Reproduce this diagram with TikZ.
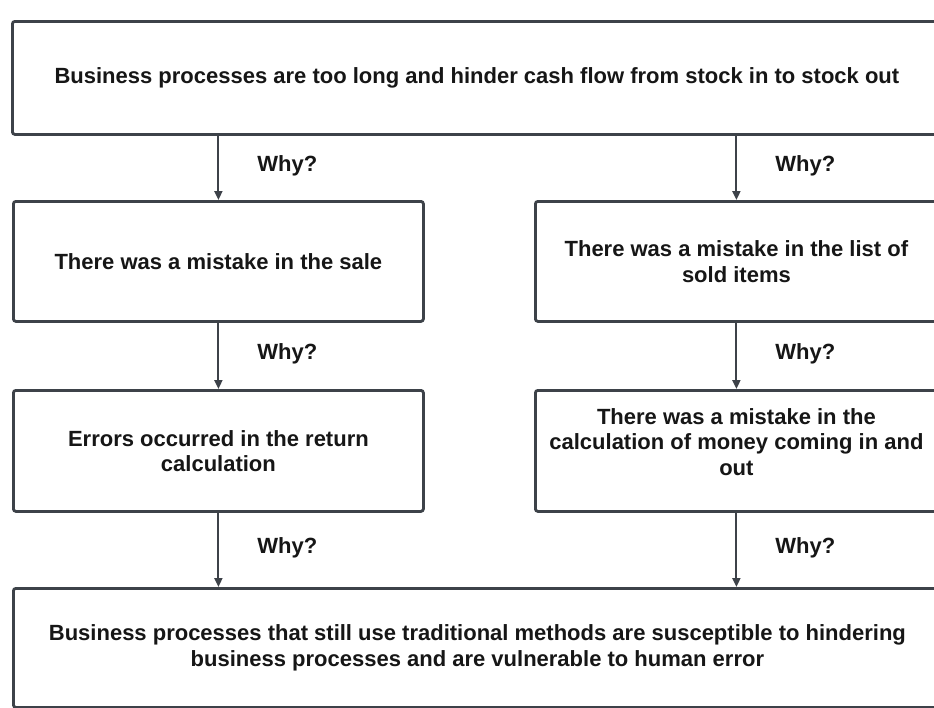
\documentclass[tikz,border=0pt]{standalone}
\usepackage{fontspec}
\setmainfont{Liberation Sans}
\usepackage{tikz}
\usetikzlibrary{arrows.meta}
\definecolor{edgegray}{HTML}{3D4249}
\definecolor{ink}{HTML}{161616}
\tikzset{
  whyfont/.style={font=\bfseries\fontsize{22}{25.5}\selectfont},
  whybox/.style={draw=edgegray, line width=2.8pt, rounded corners=2.5pt,
    anchor=north west, align=center, text=ink, inner sep=0pt, whyfont},
  whyarrow/.style={draw=edgegray, line width=2pt,
    -{Triangle[length=9pt,width=8pt]}},
  whylabel/.style={anchor=west, inner sep=0pt, text=ink, whyfont}
}
\newcommand{\why}[3]{% arrow from box #1 down to box #2, in the column of #3
  \draw[whyarrow] (#1.south -| #3.center) -- (#2.north -| #3.center)
    node[whylabel, midway, xshift=38pt, yshift=2pt] {Why?};
}

\begin{document}
\begin{tikzpicture}[x=1pt, y=-1pt]
  \clip (0,0) rectangle (934,707);
  \fill[white] (0,0) rectangle (934,707);

  % problem
  \node[whybox, minimum width=929pt, minimum height=113pt] (prob) at (11,20)
    {Business processes are too long and hinder cash flow from stock in to stock out};

  % first why
  \node[whybox, minimum width=410pt, minimum height=120pt] (saleerr) at (12,200)
    {There was a mistake in the sale};
  \node[whybox, minimum width=402pt, minimum height=120pt] (listerr) at (534,200)
    {There was a mistake in the list of\\ sold items};

  % second why
  \node[whybox, minimum width=410pt, minimum height=121pt] (returnerr) at (12,389)
    {Errors occurred in the return\\ calculation};
  \node[whybox, minimum width=402pt, minimum height=121pt] (calcerr) at (534,389)
    {};
  \node[align=center, text=ink, inner sep=0pt, whyfont, yshift=9pt] (calctext)
    at (calcerr.center)
    {There was a mistake in the\\ calculation of money coming in and\\ out};

  % root cause
  \node[whybox, minimum width=928pt, minimum height=119pt] (rootcause) at (12,587)
    {Business processes that still use traditional methods are susceptible to hindering\\
     business processes and are vulnerable to human error};

  \why{prob}{saleerr}{saleerr}
  \why{prob}{listerr}{listerr}
  \why{saleerr}{returnerr}{returnerr}
  \why{listerr}{calcerr}{calcerr}
  \why{returnerr}{rootcause}{returnerr}
  \why{calcerr}{rootcause}{calcerr}
\end{tikzpicture}
\end{document}
